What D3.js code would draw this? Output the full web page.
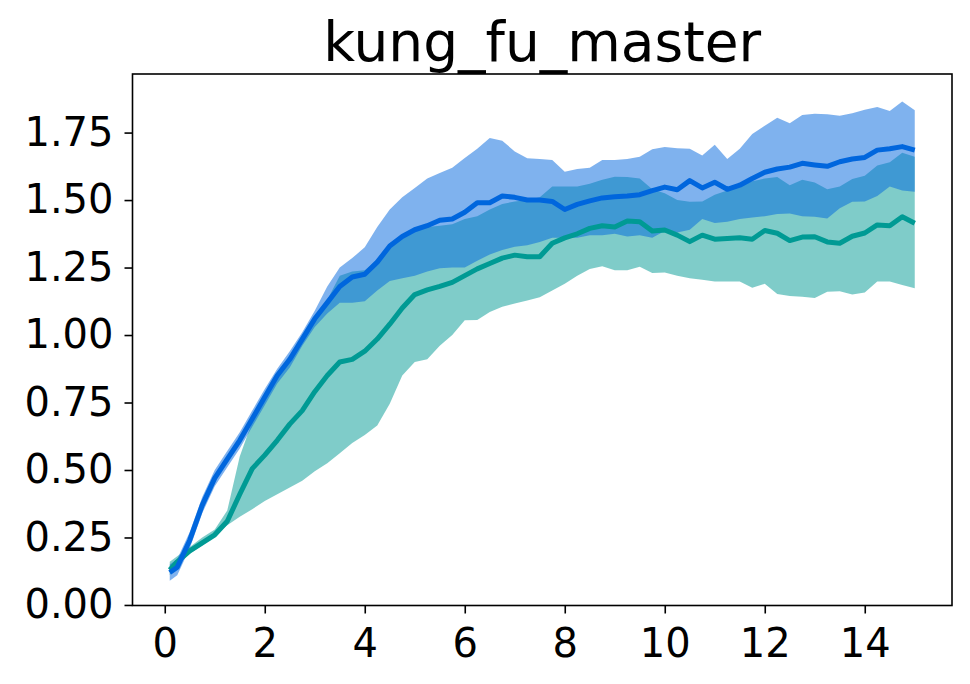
<!DOCTYPE html>
<html>
<head>
<meta charset="utf-8">
<script src="https://cdn.jsdelivr.net/npm/d3@7"></script>
<style>
    body { margin: 0; background: #fff; }
    svg { display: block; font-family: "DejaVu Sans", sans-serif; }
    .axis path, .axis line { stroke: #000; stroke-width: 1.6; }
    .axis text { font-size: 40px; fill: #000; font-family: "DejaVu Sans", sans-serif; }
</style>
</head>
<body>
<svg width="970" height="684"></svg>
<script>
var canvas = d3.select("svg");

var chartTitle = "kung_fu_master";

// training steps (x axis)
var steps = [0.1, 0.25, 0.5, 0.75, 1.0, 1.25, 1.5, 1.75, 2.0, 2.25, 2.5, 2.75, 3.0, 3.25, 3.5, 3.75,
    4.0, 4.25, 4.5, 4.75, 5.0, 5.25, 5.5, 5.75, 6.0, 6.25, 6.5, 6.75, 7.0, 7.25, 7.5, 7.75,
    8.0, 8.25, 8.5, 8.75, 9.0, 9.25, 9.5, 9.75, 10.0, 10.25, 10.5, 10.75, 11.0, 11.25, 11.5, 11.75,
    12.0, 12.25, 12.5, 12.75, 13.0, 13.25, 13.5, 13.75, 14.0, 14.25, 14.5, 14.75, 15.0];

// blue run: mean, lower and upper bound
var blueMean = [0.12, 0.14, 0.24, 0.37, 0.47, 0.54, 0.61, 0.69, 0.77, 0.85, 0.91, 0.985, 1.06, 1.12, 1.18, 1.215,
    1.225, 1.27, 1.33, 1.365, 1.39, 1.405, 1.425, 1.43, 1.455, 1.49, 1.49, 1.515, 1.51, 1.50, 1.50, 1.495,
    1.465, 1.484, 1.497, 1.508, 1.512, 1.515, 1.52, 1.535, 1.548, 1.538, 1.572, 1.545, 1.566, 1.54, 1.555, 1.58,
    1.603, 1.615, 1.622, 1.636, 1.63, 1.625, 1.642, 1.652, 1.658, 1.685, 1.69, 1.698, 1.685];
var blueLow = [0.09, 0.11, 0.21, 0.34, 0.44, 0.51, 0.58, 0.66, 0.74, 0.82, 0.88, 0.96, 1.03, 1.08, 1.12, 1.12,
    1.125, 1.165, 1.20, 1.21, 1.22, 1.235, 1.247, 1.25, 1.25, 1.275, 1.298, 1.315, 1.327, 1.333, 1.345, 1.36,
    1.36, 1.36, 1.37, 1.37, 1.375, 1.365, 1.37, 1.36, 1.385, 1.38, 1.39, 1.43, 1.415, 1.42, 1.43, 1.435,
    1.44, 1.448, 1.45, 1.44, 1.438, 1.432, 1.47, 1.494, 1.495, 1.515, 1.55, 1.535, 1.531];
var blueHigh = [0.15, 0.17, 0.27, 0.40, 0.50, 0.57, 0.64, 0.72, 0.80, 0.875, 0.94, 1.01, 1.09, 1.18, 1.25, 1.285,
    1.325, 1.40, 1.465, 1.51, 1.545, 1.58, 1.60, 1.62, 1.656, 1.69, 1.73, 1.72, 1.68, 1.655, 1.652, 1.648,
    1.605, 1.615, 1.62, 1.648, 1.648, 1.652, 1.66, 1.688, 1.697, 1.692, 1.69, 1.665, 1.705, 1.652, 1.69, 1.745,
    1.775, 1.805, 1.785, 1.815, 1.82, 1.818, 1.812, 1.822, 1.835, 1.845, 1.83, 1.865, 1.833];

// teal run: mean, lower and upper bound
var tealMean = [0.13, 0.16, 0.20, 0.23, 0.26, 0.31, 0.41, 0.505, 0.555, 0.61, 0.67, 0.72, 0.79, 0.85, 0.90, 0.91,
    0.94, 0.985, 1.04, 1.10, 1.15, 1.167, 1.18, 1.195, 1.22, 1.245, 1.265, 1.285, 1.296, 1.29, 1.29, 1.34,
    1.36, 1.375, 1.395, 1.405, 1.40, 1.422, 1.42, 1.385, 1.389, 1.37, 1.346, 1.37, 1.355, 1.358, 1.36, 1.355,
    1.387, 1.377, 1.35, 1.363, 1.364, 1.345, 1.34, 1.366, 1.378, 1.408, 1.405, 1.438, 1.414];
var tealLow = [0.11, 0.15, 0.19, 0.22, 0.26, 0.295, 0.327, 0.355, 0.385, 0.41, 0.435, 0.46, 0.495, 0.525, 0.562, 0.60,
    0.63, 0.665, 0.745, 0.85, 0.90, 0.91, 0.96, 1.00, 1.055, 1.056, 1.085, 1.105, 1.117, 1.128, 1.14, 1.165,
    1.19, 1.22, 1.245, 1.255, 1.24, 1.24, 1.253, 1.23, 1.232, 1.22, 1.21, 1.205, 1.198, 1.198, 1.198, 1.175,
    1.19, 1.152, 1.145, 1.142, 1.137, 1.16, 1.162, 1.15, 1.158, 1.198, 1.198, 1.185, 1.173];
var tealHigh = [0.16, 0.18, 0.215, 0.25, 0.28, 0.35, 0.55, 0.68, 0.775, 0.845, 0.905, 0.975, 1.05, 1.13, 1.22, 1.235,
    1.24, 1.28, 1.34, 1.37, 1.39, 1.40, 1.405, 1.41, 1.43, 1.44, 1.465, 1.485, 1.495, 1.50, 1.51, 1.55,
    1.55, 1.55, 1.56, 1.575, 1.586, 1.585, 1.58, 1.54, 1.525, 1.50, 1.494, 1.495, 1.52, 1.535, 1.55, 1.57,
    1.58, 1.585, 1.555, 1.575, 1.565, 1.54, 1.55, 1.578, 1.59, 1.628, 1.64, 1.675, 1.66];

var xTicks = [0, 2, 4, 6, 8, 10, 12, 14];
var yTicks = [0, 0.25, 0.5, 0.75, 1.0, 1.25, 1.5, 1.75];

var colorBlue = "#0066dd";
var colorTeal = "#009a94";

var plot = { left: 132.5, right: 952, top: 74, bottom: 605.5 };

var xScale = d3.scaleLinear()
    .domain([-0.645, 15.745])
    .range([plot.left, plot.right]);

var yScale = d3.scaleLinear()
    .domain([-0.002, 1.967])
    .range([plot.bottom, plot.top]);

function makeRows(mean, low, high) {
    return steps.map((s, i) => ({ x: s, m: mean[i], lo: low[i], hi: high[i] }));
}

var series = [
    { name: "teal", color: colorTeal, rows: makeRows(tealMean, tealLow, tealHigh) },
    { name: "blue", color: colorBlue, rows: makeRows(blueMean, blueLow, blueHigh) }
];

var band = d3.area()
    .x(d => xScale(d.x))
    .y0(d => yScale(d.lo))
    .y1(d => yScale(d.hi));

var line = d3.line()
    .x(d => xScale(d.x))
    .y(d => yScale(d.m));

// shaded bands first, teal under blue
canvas.append("g").selectAll("path")
    .data(series)
    .enter()
    .append("path")
    .attr("d", d => band(d.rows))
    .attr("fill", d => d.color)
    .attr("fill-opacity", 0.5);

// mean lines on top
canvas.append("g").selectAll("path")
    .data(series)
    .enter()
    .append("path")
    .attr("d", d => line(d.rows))
    .attr("fill", "none")
    .attr("stroke", d => d.color)
    .attr("stroke-width", 5)
    .attr("stroke-linejoin", "round");

// axes
canvas.append("g")
    .attr("class", "axis")
    .attr("transform", `translate(${plot.left},0)`)
    .call(d3.axisLeft(yScale).tickValues(yTicks).tickFormat(d3.format(".2f")).tickSize(8).tickPadding(11))
    .call(g => g.select(".domain").remove());

canvas.append("g")
    .attr("class", "axis")
    .attr("transform", `translate(0,${plot.bottom})`)
    .call(d3.axisBottom(xScale).tickValues(xTicks).tickFormat(d3.format("d")).tickSize(8).tickPadding(15))
    .call(g => g.select(".domain").remove());

// frame
canvas.append("rect")
    .attr("x", plot.left)
    .attr("y", plot.top)
    .attr("width", plot.right - plot.left)
    .attr("height", plot.bottom - plot.top)
    .attr("fill", "none")
    .attr("stroke", "#000")
    .attr("stroke-width", 1.6);

canvas.append("text")
    .attr("x", (plot.left + plot.right) / 2)
    .attr("y", 61)
    .attr("text-anchor", "middle")
    .style("font-size", "55px")
    .style("fill", "#000")
    .text(chartTitle);
</script>
</body>
</html>
